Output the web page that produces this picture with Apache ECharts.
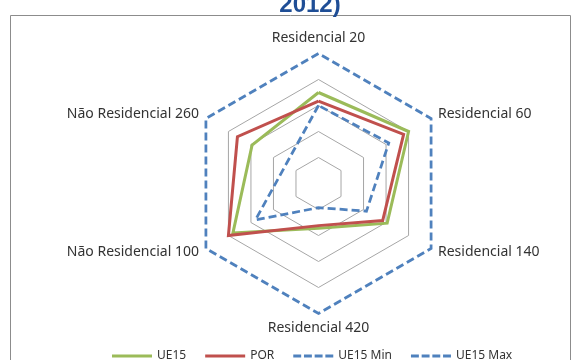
<!DOCTYPE html>
<html>
<head>
<meta charset="utf-8">
<script src="https://cdn.jsdelivr.net/npm/echarts@6/dist/echarts.min.js"></script>
<style>
  html, body { margin: 0; padding: 0; background: #fff; }
  #chart { width: 581px; height: 360px; }
</style>
</head>
<body>
<div id="chart"></div>
<script>
// Axes listed clockwise, starting at the top
const categories = ['Residencial 20', 'Residencial 60', 'Residencial 140', 'Residencial 420', 'Não Residencial 100', 'Não Residencial 260'];
const ue15 = [3.5, 4.0, 3.05, 1.72, 3.8, 2.95];
const por = [3.17, 3.78, 2.85, 1.62, 4.0, 3.6];
const ue15Min = [3.0, 3.12, 2.13, 0.93, 2.8, 1.45];
const ue15Max = [5, 5, 5, 5, 5, 5];
const seriesNames = ['UE15', 'POR', 'UE15 Min', 'UE15 Max'];
const axisMax = 5;

// ECharts lays radar indicators out counter-clockwise; flip the order after the first
const order = [0, 5, 4, 3, 2, 1];
const pick = arr => order.map(i => arr[i]);

const green = '#9bbb59', red = '#c0504d', blue = '#4f81bd';
const dashIcon = 'path://M0,0h8.5v3h-8.5z M11.5,0h8.5v3h-8.5z M23,0h8.5v3h-8.5z M34.5,0h8.5v3h-8.5z';

const chart = echarts.init(document.getElementById('chart'), null, { renderer: 'canvas' });

function radarSeries(name, values, color, width, dashed) {
  return {
    type: 'radar',
    name: name,
    symbol: 'none',
    color: color,
    lineStyle: { color: color, width: width, type: dashed ? [8, 4] : 'solid', join: 'miter' },
    data: [{ value: pick(values), name: name }]
  };
}

chart.setOption({
  animation: false,
  graphic: [
    {
      type: 'rect',
      shape: { x: 10.5, y: 15.5, width: 560, height: 360 },
      style: { fill: 'none', stroke: '#8c8c8c', lineWidth: 1 },
      silent: true
    },
    {
      type: 'text',
      x: 310, y: 17,
      style: {
        text: '2012)',
        fill: '#1f4e96',
        font: 'bold 24px "Liberation Sans"',
        textAlign: 'center',
        textVerticalAlign: 'bottom'
      }
    }
  ],
  legend: {
    left: 107,
    top: 345,
    itemWidth: 40,
    itemHeight: 3,
    itemGap: 19,
    textStyle: { fontFamily: 'Noto Sans', fontSize: 12, color: '#333' },
    data: [
      { name: seriesNames[0], icon: 'rect' },
      { name: seriesNames[1], icon: 'rect' },
      { name: seriesNames[2], icon: dashIcon },
      { name: seriesNames[3], icon: dashIcon }
    ]
  },
  radar: {
    center: [318.5, 183.5],
    radius: 130,
    startAngle: 90,
    splitNumber: 5,
    shape: 'polygon',
    nameGap: 8,
    axisName: { color: '#333', fontFamily: 'Noto Sans', fontSize: 14 },
    axisLine: { show: false },
    axisTick: { show: false },
    axisLabel: { show: false },
    splitArea: { show: false },
    splitLine: {
      lineStyle: {
        color: ['#a6a6a6', '#a6a6a6', '#a6a6a6', '#a6a6a6', '#a6a6a6', 'rgba(0,0,0,0)'],
        width: 1
      }
    },
    indicator: pick(categories).map(c => ({ name: c, min: 0, max: axisMax }))
  },
  series: [
    radarSeries(seriesNames[0], ue15, green, 3, false),
    radarSeries(seriesNames[1], por, red, 3, false),
    radarSeries(seriesNames[2], ue15Min, blue, 2.75, true),
    radarSeries(seriesNames[3], ue15Max, blue, 2.75, true)
  ]
});
</script>
</body>
</html>
